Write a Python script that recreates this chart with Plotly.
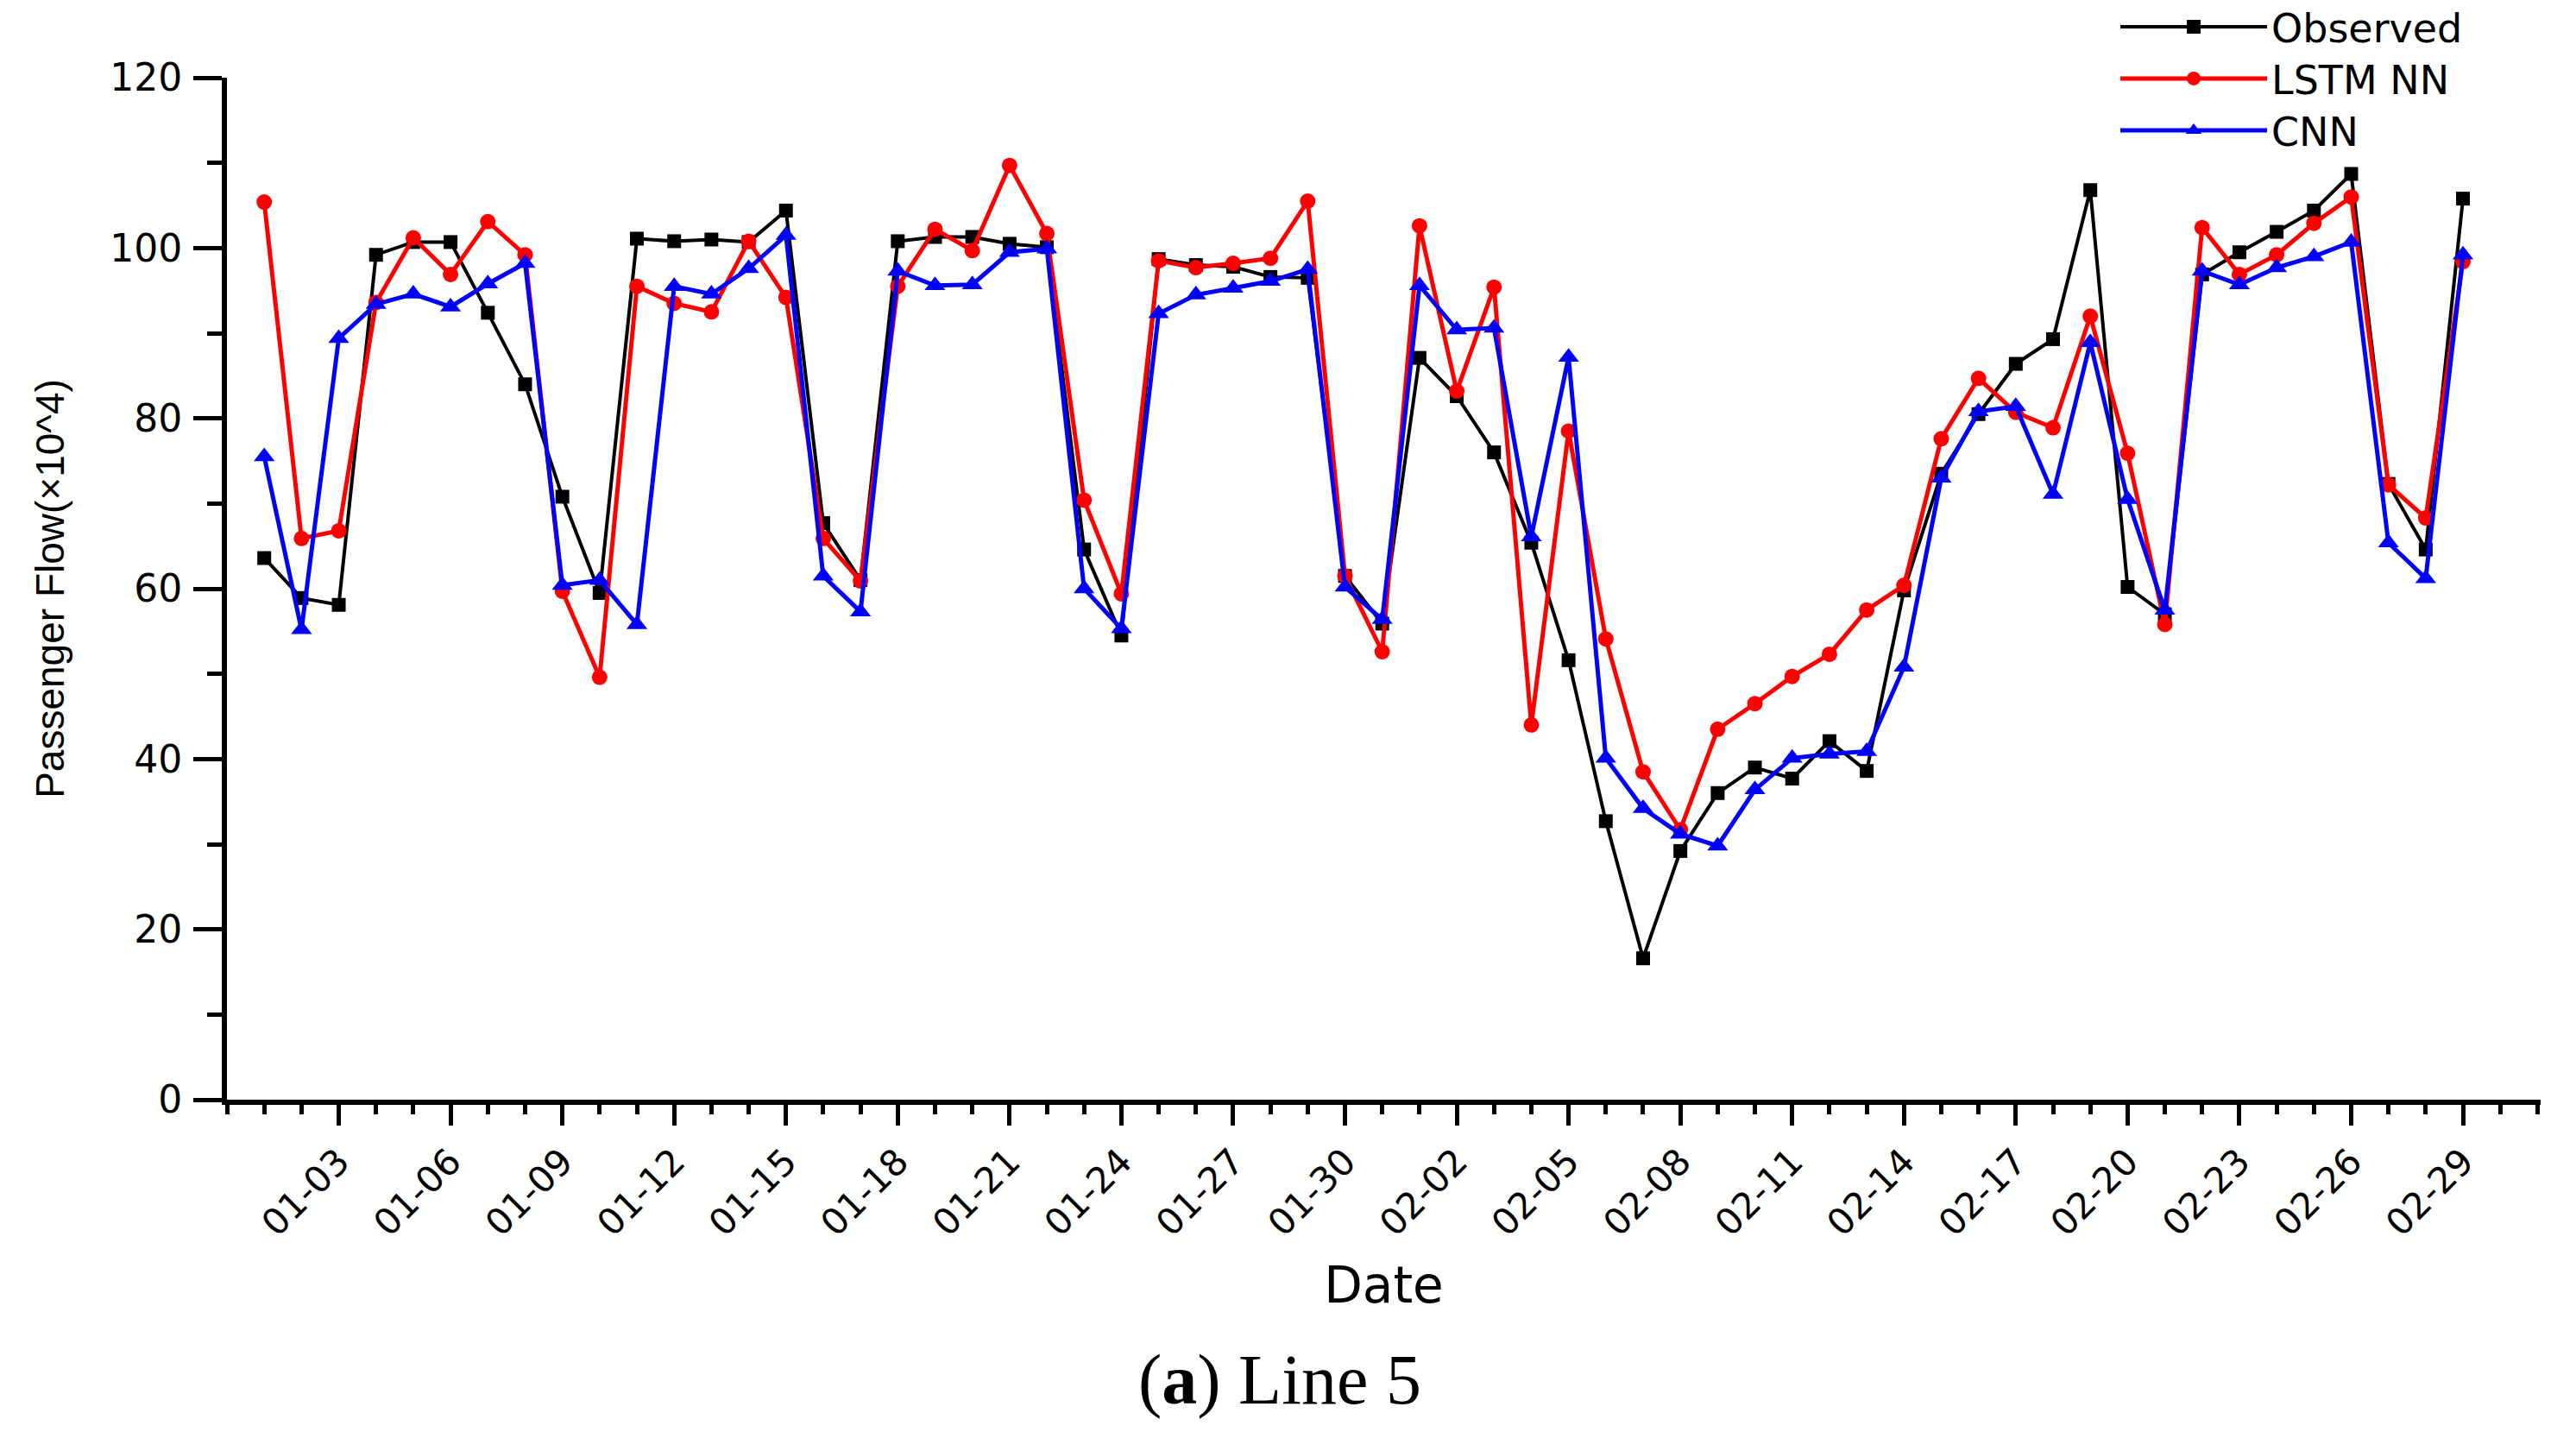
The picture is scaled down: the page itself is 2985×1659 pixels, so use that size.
import pandas as pd
import plotly.graph_objects as go

# ---- data (unit: x10^4 passengers) ----
dates = pd.date_range("2016-01-01", "2016-02-29", freq="D")
tick_dates = dates[2::3]  # 01-03, 01-06, ..., 02-29

observed = [63.6, 58.9, 58.1, 99.2, 100.7, 100.7, 92.4, 84.0, 70.8, 59.5,
            101.1, 100.8, 101.0, 100.7, 104.4, 67.7, 61.0, 100.8, 101.3, 101.3,
            100.5, 100.1, 64.6, 54.5, 98.7, 98.0, 97.8, 96.6, 96.5, 61.5,
            55.9, 87.1, 82.6, 76.0, 65.4, 51.6, 32.7, 16.6, 29.2, 36.0,
            39.0, 37.7, 42.1, 38.6, 59.8, 73.5, 80.5, 86.4, 89.3, 106.8,
            60.2, 57.0, 96.9, 99.5, 101.9, 104.4, 108.7, 72.3, 64.6, 105.8]

lstm = [105.4, 65.9, 66.8, 93.6, 101.2, 96.9, 103.1, 99.2, 59.7, 49.6,
        95.5, 93.5, 92.5, 100.8, 94.2, 65.9, 60.9, 95.5, 102.2, 99.7,
        109.7, 101.7, 70.4, 59.4, 98.5, 97.7, 98.2, 98.8, 105.5, 61.5,
        52.6, 102.6, 83.2, 95.4, 44.0, 78.5, 54.1, 38.5, 31.7, 43.5,
        46.5, 49.7, 52.3, 57.5, 60.4, 77.6, 84.7, 80.7, 78.9, 92.0,
        75.9, 55.8, 102.4, 96.9, 99.2, 102.9, 106.0, 72.2, 68.3, 98.4]

cnn = [75.5, 55.2, 89.4, 93.4, 94.6, 93.1, 95.8, 98.2, 60.4, 61.0,
       55.8, 95.5, 94.6, 97.6, 101.5, 61.5, 57.3, 97.3, 95.6, 95.7,
       99.5, 99.9, 60.0, 55.3, 92.3, 94.5, 95.3, 96.1, 97.5, 60.2,
       56.4, 95.6, 90.4, 90.6, 66.1, 87.2, 40.1, 34.2, 31.2, 29.8,
       36.4, 40.1, 40.6, 40.9, 50.8, 73.0, 80.8, 81.4, 71.1, 88.9,
       70.5, 57.5, 97.3, 95.7, 97.7, 99.0, 100.7, 65.4, 61.2, 99.2]

series_names = ["Observed", "LSTM NN", "CNN"]
x_title = "Date"
y_title = "Passenger Flow(×10^4)"
caption = "(<b>a</b>) Line 5"

# ---- styling ----
W, H = 2985, 1659
TICK_FONT = dict(family="DejaVu Sans", size=44, color="black")
XTICK_FONT = dict(family="DejaVu Sans", size=42, color="black")
LEG_FONT = dict(family="DejaVu Sans", size=46, color="black")

fig = go.Figure()
styles = [
    dict(color="#000000", width=4, symbol="square", msize=16, legend="legend"),
    dict(color="#FF0000", width=5, symbol="circle", msize=18, legend="legend2"),
    dict(color="#0000FF", width=5, symbol="triangle-up", msize=21, legend="legend3"),
]
for name, vals, st in zip(series_names, [observed, lstm, cnn], styles):
    fig.add_trace(go.Scatter(
        x=dates, y=vals, name=name, mode="lines+markers",
        line=dict(color=st["color"], width=st["width"]),
        marker=dict(symbol=st["symbol"], size=st["msize"], color=st["color"],
                    line=dict(width=0)),
        legend=st["legend"],
    ))

leg_common = dict(xref="container", yref="container", xanchor="left", yanchor="middle",
                  x=2452 / W, font=LEG_FONT, bgcolor="rgba(0,0,0,0)",
                  itemwidth=170, borderwidth=0)
row_y = [31, 91, 151]
fig.update_layout(
    legend=dict(y=1 - row_y[0] / H, **leg_common),
    legend2=dict(y=1 - row_y[1] / H, **leg_common),
    legend3=dict(y=1 - row_y[2] / H, **leg_common),
)

fig.update_layout(
    width=W, height=H,
    margin=dict(l=263, r=41, t=90, b=385, autoexpand=False),
    paper_bgcolor="white", plot_bgcolor="white",
    showlegend=True,
    xaxis=dict(
        type="date",
        range=["2015-12-31", "2016-03-02 02:00"],
        tickmode="array", tickvals=list(tick_dates), tickformat="%m-%d",
        tickangle=-45, tickfont=XTICK_FONT,
        ticks="outside", ticklen=24, tickwidth=5, tickcolor="black",
        minor=dict(ticks="outside", ticklen=11, tickwidth=5, tickcolor="black",
                   dtick=86400000, tick0="2016-01-01", showgrid=False),
        showline=True, linewidth=6, linecolor="black",
        showgrid=False, zeroline=False,
        title=dict(text=x_title, font=dict(family="DejaVu Sans", size=58, color="black"),
                   standoff=30),
    ),
    yaxis=dict(
        range=[0, 120], dtick=20, tick0=0,
        tickfont=TICK_FONT,
        ticks="outside", ticklen=33, tickwidth=5, tickcolor="black",
        ticklabelstandoff=4,
        minor=dict(ticks="outside", ticklen=17, tickwidth=5, tickcolor="black",
                   dtick=10, showgrid=False),
        showline=True, linewidth=6, linecolor="black",
        showgrid=False, zeroline=False,
        title=dict(text=y_title, font=dict(family="Liberation Sans", size=46, color="black"),
                   standoff=40),
    ),
)

fig.add_annotation(
    text=caption, xref="paper", yref="paper",
    x=(1483 - 263) / (2944 - 263), y=-(1598 - 1274) / (1274 - 90),
    xanchor="center", yanchor="middle", showarrow=False,
    font=dict(family="Liberation Serif", size=82, color="black"),
)

fig.write_html("out.html", config={"displayModeBar": False},
               post_script="document.body.style.margin='0';")
